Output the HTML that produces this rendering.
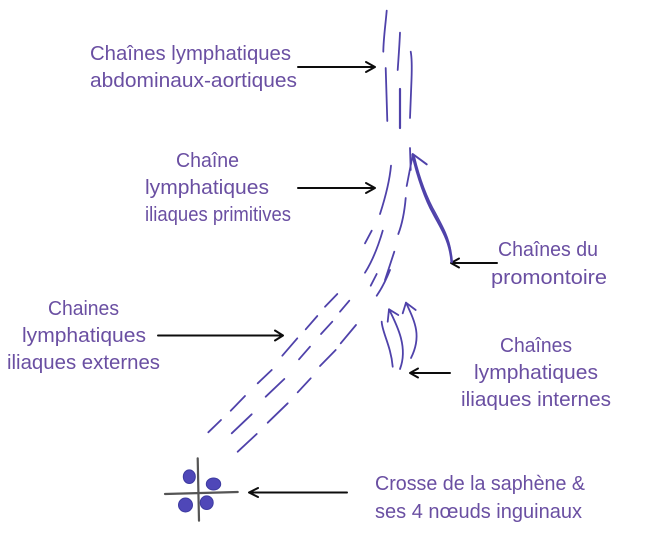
<!DOCTYPE html>
<html><head><meta charset="utf-8"><style>
html,body{margin:0;padding:0;background:#fff;width:646px;height:552px;overflow:hidden}
svg{display:block}
text{font-family:"Liberation Sans",sans-serif;font-size:20.5px;fill:#6a4fa2}
.p{fill:none;stroke:#4f42aa;stroke-width:1.8;stroke-linecap:round;stroke-linejoin:round}
.k{fill:none;stroke:#111;stroke-width:2;stroke-linecap:round;stroke-linejoin:round}
.g{fill:none;stroke:#555;stroke-width:2.2;stroke-linecap:round}
</style></head><body>
<svg width="646" height="552" viewBox="0 0 646 552" xmlns="http://www.w3.org/2000/svg">
<defs><filter id="b" x="-5%" y="-5%" width="110%" height="110%"><feGaussianBlur stdDeviation="0.35"/></filter></defs>
<g filter="url(#b)">
<text x="90" y="60" textLength="201" lengthAdjust="spacingAndGlyphs">Chaînes lymphatiques</text>
<text x="90" y="87" textLength="207" lengthAdjust="spacingAndGlyphs">abdominaux-aortiques</text>
<text x="176" y="167" textLength="63" lengthAdjust="spacingAndGlyphs">Chaîne</text>
<text x="145" y="194" textLength="124" lengthAdjust="spacingAndGlyphs">lymphatiques</text>
<text x="145" y="221" textLength="146" lengthAdjust="spacingAndGlyphs">iliaques primitives</text>
<text x="48" y="315" textLength="71" lengthAdjust="spacingAndGlyphs">Chaines</text>
<text x="22" y="342" textLength="124" lengthAdjust="spacingAndGlyphs">lymphatiques</text>
<text x="7" y="369" textLength="153" lengthAdjust="spacingAndGlyphs">iliaques externes</text>
<text x="498" y="256" textLength="100" lengthAdjust="spacingAndGlyphs">Chaînes du</text>
<text x="491" y="284" textLength="116" lengthAdjust="spacingAndGlyphs">promontoire</text>
<text x="500" y="352" textLength="72" lengthAdjust="spacingAndGlyphs">Chaînes</text>
<text x="474" y="379" textLength="124" lengthAdjust="spacingAndGlyphs">lymphatiques</text>
<text x="461" y="406" textLength="150" lengthAdjust="spacingAndGlyphs">iliaques internes</text>
<text x="375" y="490" textLength="210" lengthAdjust="spacingAndGlyphs">Crosse de la saphène &amp;</text>
<text x="375" y="518" textLength="207" lengthAdjust="spacingAndGlyphs">ses 4 nœuds inguinaux</text>

<g class="k">
<path d="M298 67H375M366 62L375 67L366 72"/>
<path d="M298 188H375M366 183L375 188L366 193"/>
<path d="M158 335.500H283M275 330.500L283 335.500L275 340.500"/>
<path d="M497 263H451M459 258.500L451 263L459 267.500"/>
<path d="M450 373H410M418 368.500L410 373L418 377.500"/>
<path d="M347 492.500H249M258 488L249 492.500L258 497"/>
</g>

<g class="p">
<path d="M386.700 10.700C385.500 25 383.500 38 383.300 51.700"/>
<path d="M400 32.700C399.500 45 398.500 58 397.700 70"/>
<path d="M410.700 51.700C412 58 412 66 411.500 80L410 118"/>
<path d="M385.700 68C386.200 85 386.800 104 387.300 121"/>
<path d="M400 89L400 128" stroke-width="2.200"/>
<path d="M410 148L410.700 170"/>
<path d="M412.700 155L406.700 186"/>
<path d="M391 165.700C389.500 182 385.500 197 380 214"/>
<path d="M405.700 198C404.500 212 402.500 223 398.300 234"/>
<path d="M371.700 230.700L365 243.300"/>
<path d="M382.700 230.700C378 247 373 260 365 272.700"/>
<path d="M394.300 251.700L385 280"/>
<path d="M390 270C386 280 382 288 376.700 295.700"/>
<path d="M376.700 274L370.700 285.700"/>
<path d="M412.700 155C418 178 426 200 433.300 213C441 228 450 240 451.700 261.700" stroke-width="2.600"/>
<path d="M414.500 157C420 180 428 200 436 214C443 227 449 238 451 252" stroke-width="1.300"/>
<path d="M412.700 154L426.700 164.300" stroke-width="2"/>
<path d="M337.300 294L325 306.700"/>
<path d="M349.300 300.700L340 311.700"/>
<path d="M317.300 316L305.700 329.300"/>
<path d="M332.300 321.700L321 334"/>
<path d="M356 325L340.700 343.300"/>
<path d="M297.300 338.300L282.300 355.700"/>
<path d="M310 346.700L299 359.300"/>
<path d="M335.700 350L320 366"/>
<path d="M271.700 370L257.700 383.300"/>
<path d="M284.300 379L265.700 396.700"/>
<path d="M310.700 378.300L297.700 392.300"/>
<path d="M245 396L230.700 410.700"/>
<path d="M251.700 414.300L231.700 433.300"/>
<path d="M287.700 403.300L267.700 422.700"/>
<path d="M221 420L208.300 432.300"/>
<path d="M256.700 434L237.700 451.700"/>
<path d="M381.700 321.700C382 332 391 346 392.700 366.700"/>
<path d="M389 309.300C398 327 408 348 400 369"/>
<path d="M387.700 321.700L389 309.300L398.300 315"/>
<path d="M406 302.700C415 322 422 336 411 358"/>
<path d="M402.700 313.300L406 302.700L415.700 310"/>
</g>

<path class="g" d="M197.700 458.300L199 520.700"/>
<path class="g" d="M165 494L237.700 492"/>
<g fill="#4f47b8" stroke="#3d3aa0" stroke-width="1">
<ellipse cx="189.300" cy="476.700" rx="6" ry="6.800"/>
<ellipse cx="213.500" cy="484" rx="7.200" ry="6"/>
<ellipse cx="185.500" cy="505" rx="7" ry="7"/>
<ellipse cx="206.700" cy="502.700" rx="6.500" ry="6.800"/>
</g>
</g>
</svg>
</body></html>
